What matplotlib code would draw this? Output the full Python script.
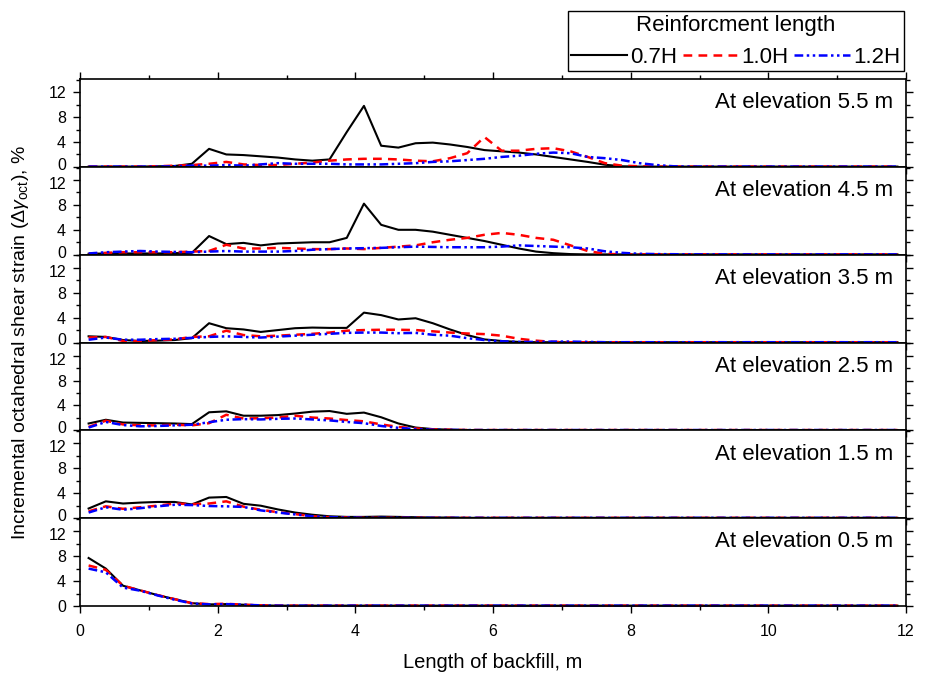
import matplotlib
matplotlib.use('Agg')
import matplotlib.pyplot as plt
from matplotlib.ticker import MultipleLocator
from matplotlib.transforms import ScaledTranslation

plt.rcParams['font.family'] = ['Liberation Sans', 'DejaVu Sans']
plt.rcParams['mathtext.fontset'] = 'custom'
plt.rcParams['mathtext.rm'] = 'Liberation Sans'
plt.rcParams['mathtext.it'] = 'Liberation Sans:italic'

# distance from wall (m), sampling every 0.25 m, last point is the far end
x = [0.125, 0.375, 0.625, 0.875, 1.125, 1.375, 1.625, 1.875, 2.125, 2.375,
     2.625, 2.875, 3.125, 3.375, 3.625, 3.875, 4.125, 4.375, 4.625, 4.875,
     5.125, 5.375, 5.625, 5.875, 6.125, 6.375, 6.625, 6.875, 7.125, 7.375,
     7.625, 7.875, 8.125, 8.375, 8.625, 8.875, 11.875]

elevations = ['5.5', '4.5', '3.5', '2.5', '1.5', '0.5']
lengths = ['0.7H', '1.0H', '1.2H']

# elevation 5.5 m
e55_07 = [0.05, 0.05, 0.05, 0.05, 0.1, 0.15, 0.5,
          2.9, 2.0, 1.9, 1.7, 1.5, 1.2, 1.0, 1.2,
          5.6, 9.8, 3.4, 3.1, 3.8, 3.9, 3.6, 3.2,
          2.7, 2.5, 2.3, 2.0, 1.6, 1.2, 0.8, 0.35,
          0.1, 0.05, 0.05, 0.05, 0.05, 0.05]
e55_10 = [0.05, 0.05, 0.05, 0.05, 0.1, 0.2, 0.3,
          0.5, 0.8, 0.4, 0.3, 0.3, 0.5, 0.7, 1.0,
          1.2, 1.3, 1.3, 1.2, 1.0, 0.9, 1.4, 2.2,
          4.8, 2.6, 2.6, 2.9, 3.0, 2.5, 1.6, 0.6,
          0.2, 0.1, 0.05, 0.05, 0.05, 0.05]
e55_12 = [0.05, 0.05, 0.05, 0.05, 0.05, 0.1, 0.2,
          0.2, 0.3, 0.2, 0.4, 0.6, 0.5, 0.5, 0.5,
          0.4, 0.4, 0.4, 0.5, 0.6, 0.8, 0.9, 1.1,
          1.3, 1.6, 1.8, 2.1, 2.3, 2.2, 1.6, 1.4,
          1.1, 0.6, 0.3, 0.1, 0.05, 0.05]

# elevation 4.5 m
e45_07 = [0.15, 0.2, 0.2, 0.2, 0.2, 0.25, 0.3,
          3.0, 1.7, 1.9, 1.5, 1.8, 1.9, 2.0, 2.0,
          2.7, 8.2, 4.8, 4.0, 4.0, 3.7, 3.2, 2.7,
          2.2, 1.6, 1.0, 0.5, 0.25, 0.1, 0.05, 0.05,
          0.05, 0.05, 0.05, 0.05, 0.05, 0.05]
e45_10 = [0.1, 0.3, 0.4, 0.4, 0.4, 0.4, 0.5,
          0.6, 1.6, 1.0, 1.0, 1.1, 1.0, 0.9, 0.9,
          1.0, 0.9, 1.1, 1.3, 1.5, 2.0, 2.4, 2.7,
          3.2, 3.5, 3.2, 2.7, 2.4, 1.5, 0.6, 0.15,
          0.05, 0.05, 0.05, 0.05, 0.05, 0.05]
e45_12 = [0.2, 0.4, 0.5, 0.6, 0.5, 0.45, 0.4,
          0.5, 0.6, 0.5, 0.5, 0.5, 0.6, 0.8, 0.9,
          1.0, 1.05, 1.1, 1.2, 1.3, 1.25, 1.2, 1.2,
          1.2, 1.3, 1.5, 1.4, 1.3, 1.2, 1.0, 0.55,
          0.3, 0.15, 0.1, 0.08, 0.05, 0.05]

# elevation 3.5 m
e35_07 = [1.0, 0.9, 0.4, 0.25, 0.3, 0.4, 0.7,
          3.1, 2.3, 2.1, 1.7, 2.0, 2.3, 2.4, 2.35,
          2.35, 4.8, 4.4, 3.7, 3.9, 3.1, 2.1, 1.2,
          0.5, 0.25, 0.1, 0.05, 0.05, 0.05, 0.05, 0.05,
          0.05, 0.05, 0.05, 0.05, 0.05, 0.05]
e35_10 = [0.8, 0.9, 0.25, 0.2, 0.4, 0.5, 0.9,
          1.0, 1.9, 1.2, 1.0, 1.1, 1.25, 1.4, 1.6,
          1.9, 2.0, 2.05, 2.05, 2.0, 1.8, 1.6, 1.45,
          1.35, 1.1, 0.6, 0.3, 0.1, 0.05, 0.05, 0.05,
          0.05, 0.05, 0.05, 0.05, 0.05, 0.05]
e35_12 = [0.45, 0.8, 0.45, 0.45, 0.55, 0.6, 0.75,
          0.9, 1.0, 0.9, 0.8, 0.95, 1.1, 1.25, 1.4,
          1.55, 1.6, 1.6, 1.5, 1.55, 1.25, 1.1, 0.7,
          0.4, 0.2, 0.1, 0.1, 0.15, 0.15, 0.1, 0.05,
          0.05, 0.05, 0.05, 0.05, 0.05, 0.05]

# elevation 2.5 m
e25_07 = [1.1, 1.7, 1.25, 1.2, 1.15, 1.1, 1.0,
          2.9, 3.05, 2.35, 2.35, 2.45, 2.7, 3.0, 3.1,
          2.65, 2.85, 2.1, 1.1, 0.45, 0.2, 0.1, 0.05,
          0.05, 0.05, 0.05, 0.05, 0.05, 0.05, 0.05, 0.05,
          0.05, 0.05, 0.05, 0.05, 0.05, 0.05]
e25_10 = [0.55, 1.55, 0.95, 0.8, 0.8, 0.9, 0.8,
          1.15, 2.5, 1.9, 1.95, 2.05, 2.35, 2.05, 1.9,
          1.65, 1.45, 0.95, 0.55, 0.3, 0.15, 0.1, 0.05,
          0.05, 0.05, 0.05, 0.05, 0.05, 0.05, 0.05, 0.05,
          0.05, 0.05, 0.05, 0.05, 0.05, 0.05]
e25_12 = [0.45, 1.35, 0.85, 0.65, 0.7, 0.8, 0.9,
          1.3, 1.7, 1.8, 1.75, 1.85, 1.9, 1.75, 1.6,
          1.35, 1.15, 0.7, 0.4, 0.2, 0.1, 0.08, 0.05,
          0.05, 0.05, 0.05, 0.05, 0.05, 0.05, 0.05, 0.05,
          0.05, 0.05, 0.05, 0.05, 0.05, 0.05]

# elevation 1.5 m
e15_07 = [1.55, 2.7, 2.35, 2.5, 2.6, 2.6, 2.2,
          3.3, 3.4, 2.3, 2.0, 1.4, 0.9, 0.55, 0.3,
          0.2, 0.2, 0.25, 0.2, 0.15, 0.1, 0.1, 0.05,
          0.05, 0.05, 0.05, 0.05, 0.05, 0.05, 0.05, 0.05,
          0.05, 0.05, 0.05, 0.05, 0.05, 0.05]
e15_10 = [1.1, 1.9, 1.5, 1.75, 2.0, 2.35, 2.25,
          2.35, 2.7, 1.85, 1.35, 0.95, 0.65, 0.3, 0.15,
          0.1, 0.05, 0.05, 0.05, 0.05, 0.05, 0.05, 0.05,
          0.05, 0.05, 0.05, 0.05, 0.05, 0.05, 0.05, 0.05,
          0.05, 0.05, 0.05, 0.05, 0.05, 0.05]
e15_12 = [0.9, 1.75, 1.35, 1.6, 1.9, 2.15, 2.1,
          1.95, 1.9, 1.8, 1.25, 0.9, 0.6, 0.3, 0.15,
          0.1, 0.05, 0.05, 0.05, 0.05, 0.05, 0.05, 0.05,
          0.05, 0.05, 0.05, 0.05, 0.05, 0.05, 0.05, 0.05,
          0.05, 0.05, 0.05, 0.05, 0.05, 0.05]

# elevation 0.5 m
e05_07 = [7.7, 6.0, 3.25, 2.5, 1.75, 1.1, 0.45,
          0.25, 0.3, 0.2, 0.1, 0.05, 0.05, 0.05, 0.05,
          0.05, 0.05, 0.05, 0.05, 0.05, 0.05, 0.05, 0.05,
          0.05, 0.05, 0.05, 0.05, 0.05, 0.05, 0.05, 0.05,
          0.05, 0.05, 0.05, 0.05, 0.05, 0.05]
e05_10 = [6.5, 5.8, 3.25, 2.5, 1.75, 1.1, 0.45,
          0.3, 0.35, 0.2, 0.1, 0.05, 0.05, 0.05, 0.05,
          0.05, 0.05, 0.05, 0.05, 0.05, 0.05, 0.05, 0.05,
          0.05, 0.05, 0.05, 0.05, 0.05, 0.05, 0.05, 0.05,
          0.05, 0.05, 0.05, 0.05, 0.05, 0.05]
e05_12 = [6.0, 5.4, 2.95, 2.45, 1.7, 1.0, 0.4,
          0.25, 0.3, 0.2, 0.1, 0.05, 0.05, 0.05, 0.05,
          0.05, 0.05, 0.05, 0.05, 0.05, 0.05, 0.05, 0.05,
          0.05, 0.05, 0.05, 0.05, 0.05, 0.05, 0.05, 0.05,
          0.05, 0.05, 0.05, 0.05, 0.05, 0.05]

panels = [
    (e55_07, e55_10, e55_12),
    (e45_07, e45_10, e45_12),
    (e35_07, e35_10, e35_12),
    (e25_07, e25_10, e25_12),
    (e15_07, e15_10, e15_12),
    (e05_07, e05_10, e05_12),
]

styles = [
    dict(color='black', lw=1.5, ls='-'),
    dict(color='#ff0000', lw=1.8, dashes=(3.5, 2.5)),
    dict(color='#0000ff', lw=1.8, dashes=(3.5, 1.4, 1.0, 1.4, 1.0, 1.4)),
]

fig, axes = plt.subplots(6, 1, figsize=(9.25, 6.76), dpi=100, sharex=True)
fig.subplots_adjust(left=0.0865, right=0.9795, top=0.883, bottom=0.1036, hspace=0)

# small nudges so the stacked "0" and "12" labels do not collide
up = ScaledTranslation(0, 2.2 / 72, fig.dpi_scale_trans)
down = ScaledTranslation(0, -2.2 / 72, fig.dpi_scale_trans)

for i, ax in enumerate(axes):
    for series, st, name in zip(panels[i], styles, lengths):
        ax.plot(x, series, label=name, clip_on=False, **st)
    ax.set_xlim(0, 12)
    ax.set_ylim(0, 14.1)
    ax.set_yticks([0, 4, 8, 12])
    ax.yaxis.set_minor_locator(MultipleLocator(2))
    ax.xaxis.set_major_locator(MultipleLocator(2))
    ax.xaxis.set_minor_locator(MultipleLocator(1))
    ax.tick_params(which='both', direction='out', right=True, top=(i == 0),
                   labelsize=11.5, width=1)
    ax.tick_params(which='major', length=5)
    ax.tick_params(which='minor', length=3)
    ax.tick_params(axis='y', pad=5)
    ax.tick_params(axis='x', pad=8)
    for sp in ax.spines.values():
        sp.set_linewidth(1.2)
    yt = ax.yaxis.get_major_ticks()
    if i < 5:
        yt[0].label1.set_transform(yt[0].label1.get_transform() + up)
    if i > 0:
        yt[3].label1.set_transform(yt[3].label1.get_transform() + down)
    ax.text(0.984, 0.73, 'At elevation ' + elevations[i] + ' m',
            transform=ax.transAxes, ha='right', va='center', fontsize=16)

axes[-1].set_xlabel('Length of backfill, m', fontsize=14.5, labelpad=10)
fig.text(0.022, 0.494,
         r'Incremental octahedral shear strain ($\Delta\gamma_{\rm oct}$), %',
         rotation=90, ha='center', va='center', fontsize=14)

handles, labels = axes[0].get_legend_handles_labels()
leg = fig.legend(handles, labels, title='Reinforcment length', ncol=3,
                 loc='lower right', bbox_to_anchor=(0.977, 0.895),
                 fontsize=16, title_fontsize=16, fancybox=False,
                 edgecolor='black', framealpha=1, handlelength=2.5,
                 handletextpad=0.15, columnspacing=0.25, borderpad=0.15,
                 borderaxespad=0)
leg.get_frame().set_linewidth(1.0)

plt.savefig('out.png')
